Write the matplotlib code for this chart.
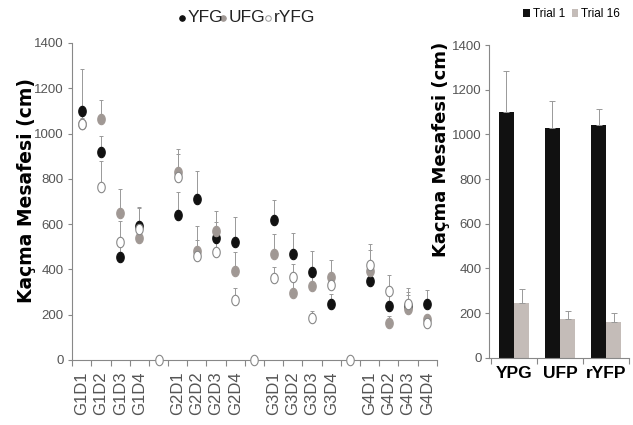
import matplotlib.pyplot as plt
import numpy as np
from matplotlib.path import Path
from matplotlib.lines import Line2D

plt.rcParams['font.family'] = ['Liberation Sans', 'DejaVu Sans']

labels = ['G1D1', 'G1D2', 'G1D3', 'G1D4', '',
          'G2D1', 'G2D2', 'G2D3', 'G2D4', '',
          'G3D1', 'G3D2', 'G3D3', 'G3D4', '',
          'G4D1', 'G4D2', 'G4D3', 'G4D4']

yfg = [1100, 920, 455, 590, np.nan, 640, 710, 540, 520, np.nan,
       620, 470, 390, 245, np.nan, 350, 240, 240, 245]
yfg_err = [185, 70, 60, 85, 0, 100, 125, 70, 110, 0,
           85, 90, 90, 45, 0, 60, 60, 60, 65]
ufg = [1040, 1065, 650, 540, np.nan, 830, 480, 570, 395, np.nan,
       470, 295, 325, 365, np.nan, 395, 165, 225, 180]
ufg_err = [60, 85, 105, 70, 0, 100, 110, 90, 80, 0,
           85, 70, 60, 75, 0, 90, 30, 60, 20]
ryfg = [1040, 765, 520, 580, 0, 810, 460, 475, 265, 0,
        360, 365, 185, 330, 0, 420, 305, 245, 165]
ryfg_err = [30, 115, 95, 90, 0, 100, 70, 90, 55, 0,
            50, 60, 30, 50, 0, 90, 70, 75, 25]

groups = ['YPG', 'UFP', 'rYFP']
trial1 = [1100, 1030, 1040]
trial1_err = [185, 120, 75]
trial16 = [245, 175, 160]
trial16_err = [65, 35, 40]

c_black = '#111111'
c_gray = '#a09894'
c_bar16 = '#c4bcb8'
c_tick = '#555555'

t = np.linspace(0, 2 * np.pi, 40)
oval = Path(np.column_stack([0.72 * np.cos(t), np.sin(t)]), closed=True)

fig = plt.figure(figsize=(6.33, 4.25), dpi=100)

# left: dot plot
ax = fig.add_axes([0.114, 0.153, 0.576, 0.746])
x = np.arange(len(labels))
series = [(yfg, yfg_err, c_black, c_black),
          (ufg, ufg_err, c_gray, c_gray),
          (ryfg, ryfg_err, 'white', '#888888')]
for vals, err, fc, ec in series:
    vals = np.array(vals, dtype=float)
    err = np.array(err, dtype=float)
    ax.errorbar(x, vals, yerr=[np.zeros_like(err), err], fmt='none',
                ecolor='#999999', elinewidth=0.7, capsize=1.5, capthick=0.7, zorder=1)
    ax.plot(x, vals, marker=oval, ms=7.5, mfc=fc, mec=ec, mew=0.8, ls='none',
            clip_on=False, zorder=3)
ax.set_xlim(-0.5, len(labels) - 0.5)
ax.set_ylim(0, 1400)
ax.set_yticks(range(0, 1401, 200))
ax.set_xticks(np.arange(-0.5, len(labels), 1.0))
ax.set_xticklabels([])
ax.set_xticks(x, minor=True)
ax.set_xticklabels(labels, minor=True, rotation=90, fontsize=12, color=c_tick)
ax.tick_params(axis='x', which='minor', length=0, pad=8)
ax.tick_params(axis='x', which='major', length=4, direction='out', color='#888888')
ax.tick_params(axis='y', length=3, pad=3, color='#888888', labelsize=9.5,
               labelcolor=c_tick)
for s in ['top', 'right']:
    ax.spines[s].set_visible(False)
for s in ['left', 'bottom']:
    ax.spines[s].set_color('#888888')
ax.set_ylabel('Kaçma Mesafesi (cm)', fontsize=13.5, fontweight='bold',
              family=['DejaVu Sans'])
ax.yaxis.set_label_coords(-0.1, 0.536)

# top legend of the dot plot
ly = 0.958
for xm, fc, ec in [(0.287, c_black, c_black), (0.352, c_gray, c_gray),
                   (0.424, 'white', '#999999')]:
    fig.add_artist(Line2D([xm], [ly], transform=fig.transFigure, marker='o', ms=4,
                          mfc=fc, mec=ec, mew=0.7, ls='none'))
fig.text(0.296, ly, 'YFG', fontsize=12.5, va='center', ha='left', color='#222222')
fig.text(0.361, ly, 'UFG', fontsize=12.5, va='center', ha='left', color='#222222')
fig.text(0.432, ly, 'rYFG', fontsize=12.5, va='center', ha='left', color='#222222')

# right: bar chart
ax2 = fig.add_axes([0.772, 0.158, 0.222, 0.736])
xb = np.arange(len(groups))
w = 0.33
ax2.bar(xb - w / 2, trial1, w, color=c_black, label='Trial 1',
        yerr=[np.zeros(3), trial1_err], error_kw=dict(ecolor='#999999', elinewidth=0.7,
                                                     capsize=2, capthick=0.7))
ax2.bar(xb + w / 2, trial16, w, color=c_bar16, label='Trial 16',
        yerr=[np.zeros(3), trial16_err], error_kw=dict(ecolor='#999999', elinewidth=0.7,
                                                      capsize=2, capthick=0.7))
ax2.set_xlim(-0.55, 2.45)
ax2.set_ylim(0, 1400)
ax2.set_yticks(range(0, 1401, 200))
ax2.set_xticks(np.arange(-0.5, 3, 1.0))
ax2.set_xticklabels([])
ax2.set_xticks(xb, minor=True)
ax2.set_xticklabels(groups, minor=True, fontsize=12.5, fontweight='bold')
ax2.tick_params(axis='x', which='minor', length=0, pad=6)
ax2.tick_params(axis='x', which='major', length=4, color='#888888')
ax2.tick_params(axis='y', length=3, pad=2, color='#888888', labelsize=9.5,
                labelcolor=c_tick)
for s in ['top', 'right']:
    ax2.spines[s].set_visible(False)
for s in ['left', 'bottom']:
    ax2.spines[s].set_color('#888888')
ax2.set_ylabel('Kaçma Mesafesi (cm)', fontsize=13, fontweight='bold',
               family=['DejaVu Sans'])
ax2.yaxis.set_label_coords(-0.275, 0.665)
ax2.legend(loc='lower right', bbox_to_anchor=(0.97, 1.065), ncol=2, frameon=False,
           fontsize=8.5, handlelength=0.55, handleheight=0.6, handletextpad=0.25,
           columnspacing=0.6, borderaxespad=0)

fig.savefig('out.png', dpi=100)
